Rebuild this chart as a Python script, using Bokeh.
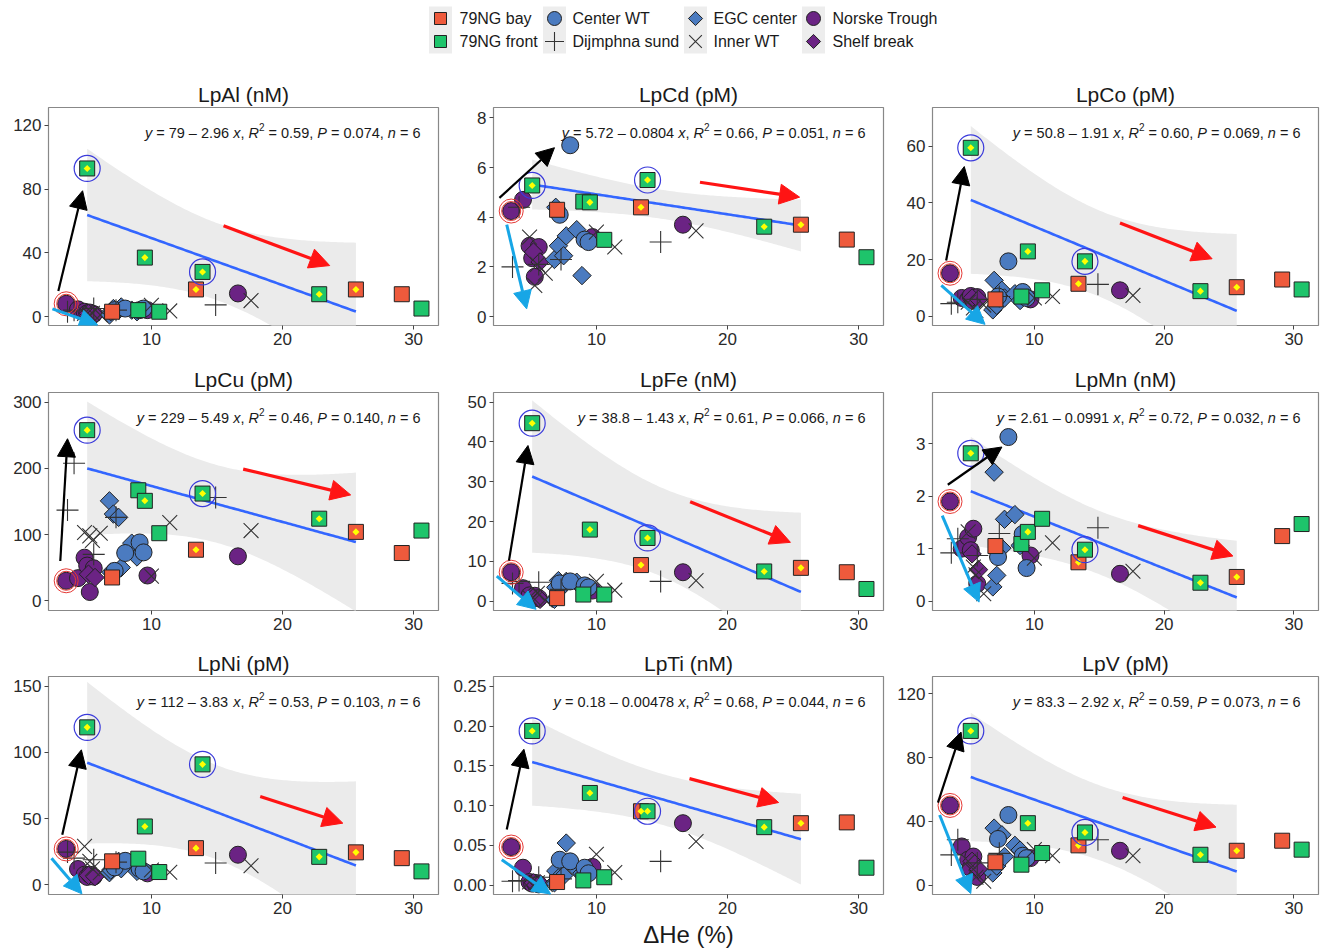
import numpy as np
from bokeh.plotting import figure
from bokeh.layouts import column, row
from bokeh.models import Arrow, NormalHead, Label, FixedTicker, Range1d
from bokeh.embed import file_html
from bokeh.resources import INLINE
from bokeh.core.properties import value

FONT = "Liberation Sans"
TXT = "#1a1a1a"

# ---------------- data ----------------
panel_keys = ["Al", "Cd", "Co", "Cu", "Fe", "Mn", "Ni", "Ti", "V"]
panel_titles = ["LpAl (nM)", "LpCd (pM)", "LpCo (pM)", "LpCu (pM)", "LpFe (nM)",
                "LpMn (nM)", "LpNi (pM)", "LpTi (nM)", "LpV (pM)"]
groups = ["79NG bay", "79NG front", "Center WT", "Dijmphna sund",
          "EGC center", "Inner WT", "Norske Trough", "Shelf break"]

# Delta He (%) of the samples in each group
x_bay = [7.0, 13.4, 25.6, 29.1]
x_front = [5.1, 9.0, 9.5, 10.6, 13.9, 22.8, 30.6]
x_center = [7.2, 8.0, 9.1, 9.4]
x_dij = [3.6, 4.1, 5.6, 7.3, 14.9]
x_egc = [6.8, 6.9, 7.1, 7.5, 7.7, 8.5, 8.9]
x_inner = [4.9, 5.3, 5.5, 6.1, 10.0, 11.4, 17.6]
x_norske = [3.5, 4.4, 4.9, 5.1, 5.3, 5.6, 9.7, 16.6]
x_shelf = [5.2, 5.7]

bay_y = {"Al": [3, 17, 17, 14], "Cd": [4.3, 4.4, 3.7, 3.1], "Co": [6, 11.5, 10.3, 13],
         "Cu": [35, 77, 104, 72], "Fe": [0.8, 9.1, 8.4, 7.3], "Mn": [1.05, 0.74, 0.46, 1.24],
         "Ni": [17.6, 27.6, 24.4, 20], "Ti": [0.004, 0.093, 0.078, 0.079], "V": [14.4, 25, 21.6, 27.9]}
front_y = {"Al": [93, 4, 37, 3, 28, 14, 5],
           "Cd": [5.28, 4.63, 4.6, 3.09, 5.5, 3.62, 2.39],
           "Co": [59.4, 7, 22.9, 9.2, 19.4, 8.9, 9.5],
           "Cu": [258, 167, 151, 102, 162, 124, 106],
           "Fe": [44.7, 1.7, 18, 1.7, 15.9, 7.5, 3.1],
           "Mn": [2.82, 1.09, 1.32, 1.57, 0.98, 0.35, 1.47],
           "Ni": [119, 19.6, 44, 9.5, 91, 21, 10],
           "Ti": [0.194, 0.006, 0.116, 0.010, 0.093, 0.073, 0.022],
           "V": [96.7, 12.9, 38.9, 20.2, 33.1, 19.1, 22.3]}
center_y = {"Al": [4, 5, 4, 5], "Cd": [4.1, 6.9, 3.1, 3.0], "Co": [7.0, 19.4, 8.6, 6.5],
            "Cu": [45, 72, 88, 73], "Fe": [4.5, 5.0, 4.0, 3.5], "Mn": [0.84, 3.13, 1.28, 0.63],
            "Ni": [13, 18, 12, 10], "Ti": [0.032, 0.030, 0.022, 0.015], "V": [29, 44, 18.5, 17]}
dij_y = {"Al": [3, 4, 5, 4, 7.3], "Cd": [2.0, 4.4, 2.1, 2.3, 3.0], "Co": [4.5, 5, 6, 7, 11.3],
         "Cu": [137, 208, 70, 126, 156], "Fe": [4.5, 5.0, 4.8, 3.0, 5.0],
         "Mn": [0.92, 1.19, 0.87, 1.29, 1.40], "Ni": [24.6, 20, 18.8, 17, 16.3],
         "Ti": [0.005, 0.006, 0.010, 0.008, 0.030], "V": [19, 28.5, 14, 20, 28.5]}
egc_y = {"Al": [1, 3, 5, 4, 6, 4, 3], "Cd": [2.3, 4.4, 2.85, 2.45, 3.25, 3.5, 1.65],
         "Co": [2.3, 12.7, 3.9, 9.2, 6.5, 8, 5.6], "Cu": [151, 43, 131, 126, 50, 87, 66],
         "Fe": [0.5, 3.5, 5.2, 4.0, 5.0, 4.8, 3.5], "Mn": [0.27, 2.46, 0.49, 1.01, 1.56, 1.65, 1.06],
         "Ni": [9, 11, 14, 17.6, 12, 17, 10], "Ti": [0.003, 0.018, 0.009, 0.012, 0.053, 0.020, 0.015],
         "V": [7.7, 35.8, 12, 31.6, 18, 25, 22]}
inner_y = {"Al": [2, 1, 2, 1, 7, 3.5, 10], "Cd": [3.2, 1.25, 2.1, 1.75, 3.4, 2.8, 3.45],
           "Co": [5, 3, 2, 4, 6.5, 7, 7.4], "Cu": [103, 98, 91, 102, 37, 118, 106],
           "Fe": [1.0, 0.5, 2, 0.3, 5.0, 2.8, 5.2], "Mn": [1.32, 0.65, 0.5, 0.14, 0.82, 1.11, 0.57],
           "Ni": [28.9, 17.6, 12, 9, 11, 9.3, 14.3], "Ti": [0.004, 0.002, 0.003, 0.001, 0.039, 0.016, 0.055],
           "V": [15, 10, 5, 2.5, 22.3, 18.5, 18.5]}
norske_y = {"Al": [8, 4.5, 3, 2, 2.5, 1.5, 4, 14.5],
            "Cd": [4.25, 4.7, 2.85, 2.35, 1.6, 2.8, 3.2, 3.7],
            "Co": [15.2, 6.5, 6.0, 7.2, 5.5, 6.8, 6.0, 9.2],
            "Cu": [30, 34, 65, 53, 13, 49, 38, 67],
            "Fe": [7.3, 3.3, 1.5, 0.6, 1.4, 0.8, 2.7, 7.3],
            "Mn": [1.90, 1.0, 1.22, 0.97, 1.38, 0.33, 0.87, 0.52],
            "Ni": [27, 11.8, 7.5, 5.8, 7.5, 6, 8.5, 22.6],
            "Ti": [0.048, 0.022, 0.004, 0.002, 0.003, 0.001, 0.023, 0.078],
            "V": [50, 24.3, 16, 10.8, 18, 5.2, 17, 21.6]}
shelf_y = {"Al": [2, 1], "Cd": [2.6, 2.2], "Co": [6.5, 6.0], "Cu": [40, 35], "Fe": [1.0, 0.5],
           "Mn": [0.9, 0.6], "Ni": [7, 6], "Ti": [0.003, 0.002], "V": [15, 10]}

# samples used in the regression (n = 6), and ringed samples
reg_front_idx = [0, 2, 4, 5]
reg_bay_idx = [1, 2]
blue_ring_front_idx = [0, 4]
red_ring_norske_idx = [0]

# equation texts
eq_a = {"Al": "79", "Cd": "5.72", "Co": "50.8", "Cu": "229", "Fe": "38.8", "Mn": "2.61",
        "Ni": "112", "Ti": "0.18", "V": "83.3"}
eq_b = {"Al": "2.96", "Cd": "0.0804", "Co": "1.91", "Cu": "5.49", "Fe": "1.43", "Mn": "0.0991",
        "Ni": "3.83", "Ti": "0.00478", "V": "2.92"}
eq_r2 = {"Al": "0.59", "Cd": "0.66", "Co": "0.60", "Cu": "0.46", "Fe": "0.61", "Mn": "0.72",
         "Ni": "0.53", "Ti": "0.68", "V": "0.59"}
eq_p = {"Al": "0.074", "Cd": "0.051", "Co": "0.069", "Cu": "0.140", "Fe": "0.066", "Mn": "0.032",
        "Ni": "0.103", "Ti": "0.044", "V": "0.073"}
eq_n = "6"

# axes
y_ranges = {"Al": (-5.65, 131.3), "Cd": (-0.36, 8.42), "Co": (-3.2, 73.6), "Cu": (-15, 315),
            "Fe": (-2.3, 52.4), "Mn": (-0.18, 3.98), "Ni": (-7.5, 157.5), "Ti": (-0.0117, 0.2625),
            "V": (-5.8, 130.8)}
y_ticks = {"Al": [0, 40, 80, 120], "Cd": [0, 2, 4, 6, 8], "Co": [0, 20, 40, 60],
           "Cu": [0, 100, 200, 300], "Fe": [0, 10, 20, 30, 40, 50], "Mn": [0, 1, 2, 3],
           "Ni": [0, 50, 100, 150], "Ti": [0, 0.05, 0.10, 0.15, 0.20, 0.25], "V": [0, 40, 80, 120]}
x_ticks = [10, 20, 30]
x_range = (2.15, 31.9)

# annotation arrows (x0, y0, x1, y1)
arrows_black = {"Al": (2.9, 16, 4.75, 79), "Cd": (2.6, 4.78, 6.8, 6.8), "Co": (3.2, 19.7, 4.6, 52.8),
                "Cu": (3.05, 60, 3.6, 245), "Fe": (3.33, 10.2, 4.78, 39.1), "Mn": (3.33, 2.22, 7.5, 2.94),
                "Ni": (3.2, 37.7, 4.66, 102), "Ti": (3.16, 0.07, 4.47, 0.171), "V": (2.57, 51.8, 4.35, 96)}
arrows_blue = {"Al": (2.45, 4.8, 5.9, -5.2), "Cd": (3.16, 3.7, 4.68, 0.31), "Co": (2.83, 10.9, 6.2, -2.8),
               "Cu": None, "Fe": (2.4, 6.3, 5.4, -2.0), "Mn": (2.9, 1.63, 5.74, -0.02),
               "Ni": (2.38, 20, 4.7, -7.0), "Ti": (2.78, 0.032, 6.5, -0.011), "V": (2.7, 44, 5.1, -5.2)}
arrows_red = {"Al": (15.5, 57, 23.6, 32), "Cd": (17.9, 5.41, 25.5, 4.81), "Co": (16.6, 32.9, 23.7, 20.3),
              "Cu": (17.0, 199, 25.2, 160), "Fe": (17.15, 25, 24.8, 14.8), "Mn": (18.0, 1.44, 25.3, 0.86),
              "Ni": (18.3, 66.6, 24.6, 46.5), "Ti": (17.1, 0.134, 23.9, 0.104), "V": (16.8, 55, 24.0, 36.4)}

# ---------------- styles ----------------
C_BAY = "#EE5A3C"
C_FRONT = "#1EC46B"
C_BLUE = "#4B7BC0"
C_PURPLE = "#6B2384"

styles = {
    "79NG bay": dict(marker="square", size=15, fill_color=C_BAY, line_color="#222222", angle=0.0, lw=1),
    "79NG front": dict(marker="square", size=15, fill_color=C_FRONT, line_color="#222222", angle=0.0, lw=1),
    "Center WT": dict(marker="circle", size=17, fill_color=C_BLUE, line_color="#222222", angle=0.0, lw=1),
    "Dijmphna sund": dict(marker="cross", size=22, fill_color=None, line_color="#333333", angle=0.0, lw=1.1),
    "EGC center": dict(marker="square", size=13, fill_color=C_BLUE, line_color="#222222", angle=np.pi / 4, lw=1),
    "Inner WT": dict(marker="x", size=21, fill_color=None, line_color="#333333", angle=0.0, lw=1.1),
    "Norske Trough": dict(marker="circle", size=17, fill_color=C_PURPLE, line_color="#222222", angle=0.0, lw=1),
    "Shelf break": dict(marker="square", size=13, fill_color=C_PURPLE, line_color="#222222", angle=np.pi / 4, lw=1),
}
group_data = {
    "Norske Trough": (x_norske, norske_y),
    "Shelf break": (x_shelf, shelf_y),
    "EGC center": (x_egc, egc_y),
    "Center WT": (x_center, center_y),
    "Dijmphna sund": (x_dij, dij_y),
    "Inner WT": (x_inner, inner_y),
    "79NG bay": (x_bay, bay_y),
    "79NG front": (x_front, front_y),
}

# Arial / Liberation Sans advance widths (1/1000 em)
CW = {' ': 278, '=': 584, '\u2013': 556, '.': 278, ',': 278, 'x': 500, 'y': 500,
      'R': 722, 'P': 667, 'n': 556}


def text_w(s, size):
    return sum(CW.get(c, 556) for c in s) * size / 1000.0


def add_equation(p, key, xr, yr):
    fs = 14.5
    sup = 10.0
    segs = [("y", "italic", fs, 0),
            (" = " + eq_a[key] + " \u2013 " + eq_b[key] + " ", "normal", fs, 0),
            ("x", "italic", fs, 0),
            (", ", "normal", fs, 0),
            ("R", "italic", fs, 0),
            ("2", "normal", sup, 6),
            (" = " + eq_r2[key] + ", ", "normal", fs, 0),
            ("P", "italic", fs, 0),
            (" = " + eq_p[key] + ", ", "normal", fs, 0),
            ("n", "italic", fs, 0),
            (" = " + eq_n, "normal", fs, 0)]
    total = sum(text_w(s, f) for s, _, f, _ in segs)
    off = -(18 + total)
    for s, style, f, rise in segs:
        lead = len(s) - len(s.lstrip(" "))
        shown = s.strip(" ")
        if shown:
            p.add_layout(Label(x=xr[1], y=yr[1], x_units="data", y_units="data",
                               x_offset=off + text_w(" " * lead, f), y_offset=-25 + rise, text=shown,
                               text_font=FONT, text_font_size=f"{f}px", text_font_style=style,
                               text_color=TXT, text_align="left", text_baseline="alphabetic"))
        off += text_w(s, f)


def add_arrow(p, a, color, lw, head):
    if a is None:
        return
    p.add_layout(Arrow(end=NormalHead(size=head, fill_color=color, line_color=color, line_width=1),
                       x_start=a[0], y_start=a[1], x_end=a[2], y_end=a[3],
                       line_color=color, line_width=lw))


frame_w = [390, 390, 386]
border_l = [48, 46, 46]
border_r = [9, 3, 4]
border_t = [35, 35, 34]
border_b = [32, 32, 52]


def make_panel(i, key):
    col, rw = i % 3, i // 3
    yr = y_ranges[key]
    p = figure(frame_width=frame_w[col], frame_height=218,
               x_range=Range1d(*x_range), y_range=Range1d(*yr),
               output_backend="svg", toolbar_location=None,
               min_border_left=border_l[col], min_border_right=border_r[col],
               min_border_top=border_t[rw], min_border_bottom=border_b[rw],
               title=panel_titles[i])
    p.title.align = "center"
    p.title.text_font = FONT
    p.title.text_font_size = "21px"
    p.title.text_font_style = "normal"
    p.title.text_color = TXT
    p.title.standoff = 4
    p.xgrid.visible = False
    p.ygrid.visible = False
    p.outline_line_color = "#888888"
    p.outline_line_width = 1.2
    p.xaxis.ticker = FixedTicker(ticks=x_ticks)
    p.yaxis.ticker = FixedTicker(ticks=y_ticks[key])
    if key == "Ti":
        p.yaxis.major_label_overrides = {t: f"{t:.2f}" for t in y_ticks[key]}
    for ax in (p.xaxis[0], p.yaxis[0]):
        ax.axis_line_color = None
        ax.major_tick_line_color = "#444444"
        ax.major_tick_out = 4
        ax.major_tick_in = 0
        ax.minor_tick_line_color = None
        ax.major_label_text_font = FONT
        ax.major_label_text_font_size = "17px"
        ax.major_label_text_color = "#2a2a2a"
        ax.major_label_standoff = 3
    if key == "Ti":
        p.xaxis.axis_label = "\u0394He (%)"
        p.xaxis.axis_label_text_font = FONT
        p.xaxis.axis_label_text_font_size = "24px"
        p.xaxis.axis_label_text_font_style = "normal"
        p.xaxis.axis_label_text_color = TXT
        p.xaxis.axis_label_standoff = 4

    # regression on the 6 selected samples
    rx = np.array([x_front[j] for j in reg_front_idx] + [x_bay[j] for j in reg_bay_idx])
    ry = np.array([front_y[key][j] for j in reg_front_idx] + [bay_y[key][j] for j in reg_bay_idx])
    n = len(rx)
    b1, b0 = np.polyfit(rx, ry, 1)
    resid = ry - (b0 + b1 * rx)
    s = np.sqrt(np.sum(resid ** 2) / (n - 2))
    xbar = rx.mean()
    sxx = np.sum((rx - xbar) ** 2)
    xx = np.linspace(rx.min(), rx.max(), 120)
    yhat = b0 + b1 * xx
    se = s * np.sqrt(1.0 / n + (xx - xbar) ** 2 / sxx)
    tq = 2.776  # t(0.975, df=4)
    p.varea(x=xx, y1=yhat - tq * se, y2=yhat + tq * se, fill_color="#EBEBEB")
    p.line(xx, yhat, line_color="#3366FF", line_width=2.6)

    for g, (gx, gy) in group_data.items():
        st = styles[g]
        p.scatter(x=gx, y=gy[key], marker=st["marker"], size=st["size"], angle=st["angle"],
                  fill_color=st["fill_color"], line_color=st["line_color"], line_width=st["lw"])

    # yellow centres of regression samples
    p.scatter(x=list(rx), y=list(ry), marker="square", angle=np.pi / 4, size=5,
              fill_color="#FFFF00", line_color=None)
    # rings
    p.scatter(x=[x_front[j] for j in blue_ring_front_idx], y=[front_y[key][j] for j in blue_ring_front_idx],
              marker="circle", size=26, fill_color=None, line_color="#3B3BDB", line_width=1.2)
    for sz in (24, 19):
        p.scatter(x=[x_norske[j] for j in red_ring_norske_idx], y=[norske_y[key][j] for j in red_ring_norske_idx],
                  marker="circle", size=sz, fill_color=None, line_color="#E53935", line_width=1)

    add_arrow(p, arrows_black[key], "#000000", 2.2, 18)
    add_arrow(p, arrows_blue[key], "#17A6E6", 3, 18)
    add_arrow(p, arrows_red[key], "#FF1414", 3.2, 20)
    add_equation(p, key, x_range, yr)
    return p


panels = [make_panel(i, k) for i, k in enumerate(panel_keys)]

# ---------------- legend strip ----------------
W = 1322
H_LEG = 72
leg = figure(width=W, height=H_LEG, x_range=Range1d(0, W), y_range=Range1d(0, H_LEG),
             output_backend="svg", toolbar_location=None, x_axis_type=None, y_axis_type=None,
             min_border=0)
leg.grid.visible = False
leg.outline_line_color = None
leg_key_x = [440, 554, 695, 813]
leg_text_x = [459, 572, 713, 832]
leg_row_y = [54, 31]
leg.rect(x=leg_key_x, y=[42.5] * 4, width=23, height=47, fill_color="#EDEDED", line_color=None)
for k, g in enumerate(groups):
    c, r = k // 2, k % 2
    st = styles[g]
    sz = st["size"] - 3
    leg.scatter(x=[leg_key_x[c]], y=[leg_row_y[r]], marker=st["marker"], size=sz, angle=st["angle"],
                fill_color=st["fill_color"], line_color=st["line_color"], line_width=st["lw"])
    leg.text(x=[leg_text_x[c]], y=[leg_row_y[r]], text=[g], text_font=value(FONT),
             text_font_size="16px", text_color=TXT, text_baseline="middle", text_align="left")

layout = column(leg, row(*panels[0:3]), row(*panels[3:6]), row(*panels[6:9]))
open("out.html", "w").write(file_html(layout, INLINE, "Lp vs dHe"))
